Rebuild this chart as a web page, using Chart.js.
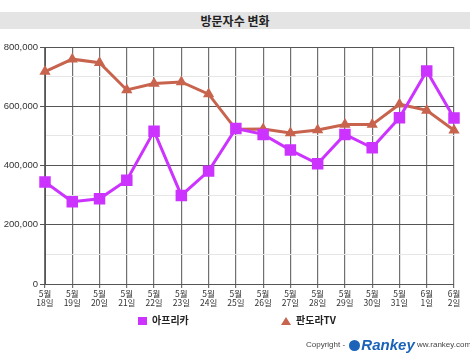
<!DOCTYPE html>
<html>
<head>
<meta charset="utf-8">
<script src="https://cdn.jsdelivr.net/npm/chart.js@4"></script>
<style>
  html, body { margin: 0; padding: 0; background: #fff; }
  #wrap { position: relative; width: 470px; height: 356px; font-family: "Noto Sans CJK KR", "DejaVu Sans", sans-serif; }
  #title { position: absolute; left: 0; top: 12px; width: 470px; height: 17px; background: #e4e4e4; text-align: center; font-weight: bold; font-size: 12px; line-height: 17px; color: #222; }
  canvas { position: absolute; left: 0; top: 0; }
  #legend { position: absolute; top: 312px; left: 0; width: 470px; height: 16px; font-size: 10px; font-weight: bold; color: #222; }
  .li { position: absolute; top: 0; line-height: 16px; white-space: nowrap; }
  .mk { display: inline-block; vertical-align: middle; margin-right: 5px; }
  #copy { position: absolute; left: 306px; top: 337px; font-family: "Liberation Sans", Arial, sans-serif; font-size: 8px; color: #444; white-space: nowrap; line-height: 16px; }
  #copy .rk { font-size: 15px; font-weight: bold; font-style: italic; color: #1a63b8; vertical-align: middle; }
  #copy .ic { display: inline-block; width: 11px; height: 11px; border-radius: 6px; background: #1a63b8; vertical-align: middle; margin: 0 1px 0 2px; }
</style>
</head>
<body>
<div id="wrap">
  <canvas id="c" width="470" height="356"></canvas>
  <div id="title">방문자수 변화</div>
  <div id="legend"></div>
  <div id="copy">Copyright - <span class="ic"></span><span class="rk">Rankey</span> ww.rankey.com</div>
</div>
<script>
const categories = [["5월","18일"],["5월","19일"],["5월","20일"],["5월","21일"],["5월","22일"],["5월","23일"],["5월","24일"],["5월","25일"],["5월","26일"],["5월","27일"],["5월","28일"],["5월","29일"],["5월","30일"],["5월","31일"],["6월","1일"],["6월","2일"]];
const seriesNames = ["아프리카", "판도라TV"];
const afreeca = [344000, 278000, 288000, 350000, 516000, 299000, 381000, 525000, 505000, 452000, 406000, 505000, 460000, 561000, 719000, 560000];
const pandora = [717000, 759000, 747000, 655000, 677000, 682000, 641000, 522000, 523000, 510000, 520000, 538000, 538000, 607000, 586000, 519000];
const yTicks = [0, 200000, 400000, 600000, 800000];

const colors = ["#cc33ff", "#c8644e"];

const chart = new Chart(document.getElementById('c'), {
  type: 'line',
  data: {
    labels: categories,
    datasets: [
      { label: seriesNames[0], data: afreeca, borderColor: colors[0], backgroundColor: colors[0], borderWidth: 3, pointStyle: 'rect', pointRadius: 6, pointHoverRadius: 6, tension: 0, order: 1 },
      { label: seriesNames[1], data: pandora, borderColor: colors[1], backgroundColor: colors[1], borderWidth: 3, pointStyle: 'triangle', pointRadius: 3.5, pointHoverRadius: 3.5, tension: 0, order: 2 }
    ]
  },
  options: {
    responsive: false,
    animation: false,
    events: [],
    layout: { padding: { top: 47, right: 16, bottom: 42, left: 0 } },
    plugins: { legend: { display: false }, title: { display: false }, tooltip: { enabled: false } },
    scales: {
      x: {
        offset: false,
        afterFit: s => { s.height = 30; },
        grid: { color: '#707070', lineWidth: 1.2, drawTicks: true, tickLength: 4, tickColor: '#707070' },
        border: { display: false },
        ticks: { autoSkip: false, maxRotation: 0, minRotation: 0, padding: 2, color: '#333', font: { size: 8.5, family: '"Noto Sans CJK KR", sans-serif', lineHeight: 1.0 } }
      },
      y: {
        min: 0, max: 800000,
        afterFit: s => { s.width = 45; },
        afterBuildTicks: s => { s.ticks = [0,100000,200000,300000,400000,500000,600000,700000,800000].map(v => ({ value: v })); },
        grid: {
          color: c => (yTicks.includes(c.tick.value) ? '#555' : '#e6e6e6'),
          lineWidth: 1,
          tickLength: 5,
          tickColor: c => (yTicks.includes(c.tick.value) ? '#555' : 'rgba(0,0,0,0)')
        },
        border: { display: true, color: '#555', width: 1 },
        ticks: {
          padding: 2,
          color: '#333',
          font: { size: 9.5, family: '"Liberation Sans", Arial, sans-serif' },
          callback: v => (yTicks.includes(v) ? v.toLocaleString('en-US') : '')
        }
      }
    }
  }
});

// HTML legend built from the dataset config
const legend = document.getElementById('legend');
const legendX = [138, 281];
chart.data.datasets.forEach((ds, i) => {
  const item = document.createElement('span');
  item.className = 'li';
  item.style.left = legendX[i] + 'px';
  const mk = document.createElement('span');
  mk.className = 'mk';
  if (ds.pointStyle === 'rect') {
    mk.style.cssText = 'width:9px;height:8px;background:' + ds.borderColor + ';';
  } else {
    mk.style.cssText = 'width:0;height:0;border-left:5px solid transparent;border-right:5px solid transparent;border-bottom:8px solid ' + ds.borderColor + ';';
  }
  item.appendChild(mk);
  item.appendChild(document.createTextNode(ds.label));
  legend.appendChild(item);
});
</script>
</body>
</html>
